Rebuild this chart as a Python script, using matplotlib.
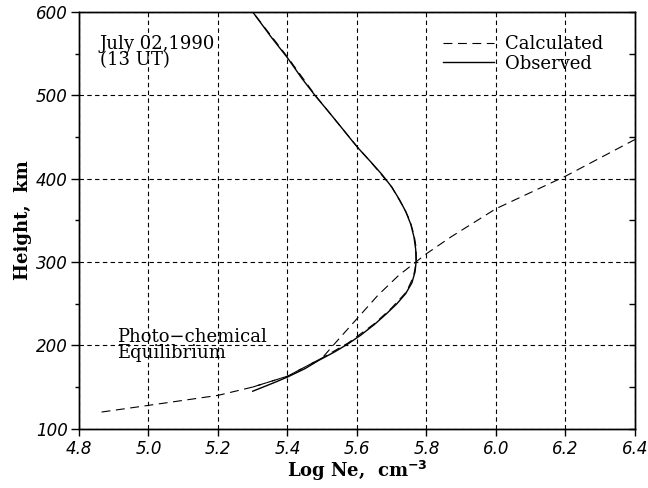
import matplotlib
matplotlib.use("Agg")
import matplotlib.pyplot as plt
from matplotlib.ticker import MultipleLocator

# observed profile (log Ne, height km)
obs_logne = [5.30, 5.36, 5.40, 5.45, 5.49, 5.535, 5.575, 5.61, 5.65, 5.685,
             5.715, 5.74, 5.758, 5.767, 5.770, 5.769, 5.764, 5.755, 5.741,
             5.722, 5.700, 5.672, 5.640, 5.605, 5.585, 5.558, 5.519, 5.479,
             5.442, 5.40, 5.353, 5.30]
obs_height = [145, 155, 162, 172, 182, 192, 202, 212, 225, 238,
              250, 262, 275, 288, 300, 315, 330, 345, 360,
              375, 390, 405, 420, 436, 446, 460, 480, 500,
              520, 545, 570, 600]

# calculated profile, photo-chemical equilibrium branch
calc_logne = [4.865, 5.0, 5.2, 5.30, 5.40, 5.50, 5.54, 5.60, 5.66, 5.72,
              5.80, 5.87, 6.0, 6.2, 6.4]
calc_height = [120, 128, 140, 150, 163, 185, 204, 232, 260, 284,
               310, 330, 364, 403, 447]

# calculated profile, fitted branch (lies on top of observed)
fit_logne = [5.30, 5.40, 5.50, 5.575, 5.65, 5.70, 5.742, 5.762, 5.771,
             5.770, 5.764, 5.752, 5.735, 5.70, 5.64, 5.603, 5.558, 5.519,
             5.48, 5.40, 5.30]
fit_height = [150, 163, 185, 203, 226, 245, 264, 282, 300,
              318, 333, 350, 365, 390, 420, 437, 460, 480,
              500, 546, 600]

xticks = [4.8, 5.0, 5.2, 5.4, 5.6, 5.8, 6.0, 6.2, 6.4]
yticks = [100, 200, 300, 400, 500, 600]

serif = "DejaVu Serif"
dash = (0, (8, 5))

fig = plt.figure(figsize=(6.48, 4.88), dpi=100)
ax = fig.add_axes([0.1219, 0.1215, 0.8580, 0.8539])

ax.plot(calc_logne, calc_height, color="black", lw=0.8, linestyle=dash,
        label="Calculated")
ax.plot(fit_logne, fit_height, color="black", lw=0.8, linestyle=dash)
ax.plot(obs_logne, obs_height, color="black", lw=1.0, label="Observed")

ax.set_xlim(4.8, 6.4)
ax.set_ylim(100, 600)
ax.set_xticks(xticks)
ax.set_yticks(yticks)
ax.set_xticklabels([f"{v:.1f}" for v in xticks], fontstyle="italic",
                   fontsize=12)
ax.set_yticklabels([str(v) for v in yticks], fontstyle="italic", fontsize=12)
ax.yaxis.set_minor_locator(MultipleLocator(50))
ax.tick_params(axis="x", direction="out", length=5, width=1, pad=3)
ax.tick_params(axis="y", which="major", direction="out", length=6, width=1,
               pad=2)
ax.tick_params(axis="y", which="minor", direction="out", length=3, width=1)

ax.grid(True, which="major", color="black", lw=0.8, linestyle=(0, (4, 3)))

# right-hand ticks pointing inward
ax2 = ax.twinx()
ax2.set_ylim(100, 600)
ax2.set_yticks(yticks)
ax2.yaxis.set_minor_locator(MultipleLocator(50))
ax2.tick_params(axis="y", which="both", direction="in", length=4, width=1,
                labelright=False)

for a in (ax, ax2):
    for s in a.spines.values():
        s.set_linewidth(1.0)

ax.set_xlabel("Log Ne,  cm$^{\\mathbf{-3}}$", fontfamily=serif,
              fontweight="bold", fontsize=13, labelpad=1)
ax.set_ylabel("Height,  km", fontfamily=serif, fontweight="bold",
              fontsize=13, labelpad=3)

ax.text(4.86, 572, "July 02,1990\n(13 UT)", fontfamily=serif, fontsize=13,
        va="top", ha="left", linespacing=0.85)
ax.text(4.91, 221, "Photo\u2212chemical\nEquilibrium", fontfamily=serif,
        fontsize=13, va="top", ha="left", linespacing=0.85)

ax.legend(loc="upper left", bbox_to_anchor=(0.655, 0.945), frameon=False,
          prop={"family": serif, "size": 13}, handlelength=2.8,
          handletextpad=0.6, labelspacing=0.1, borderaxespad=0,
          borderpad=0)

fig.savefig("out.png", dpi=100)
